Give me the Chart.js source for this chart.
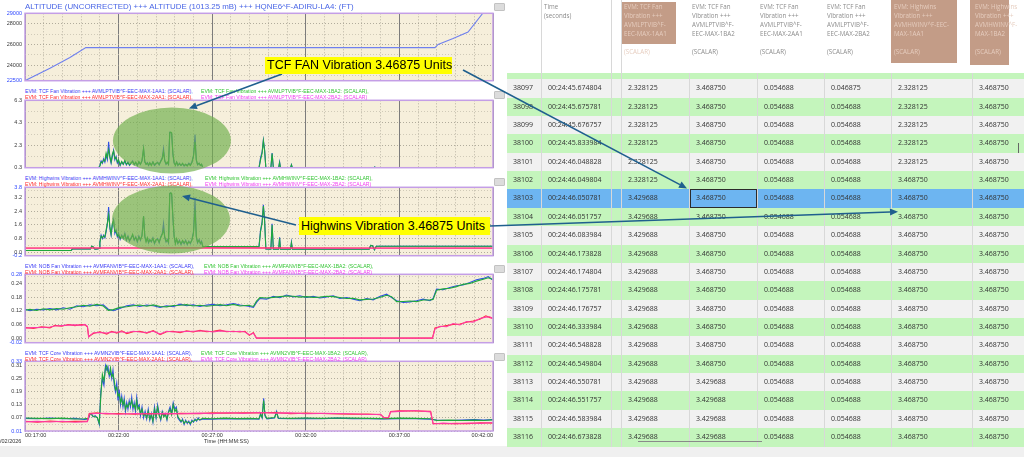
<!DOCTYPE html>
<html>
<head>
<meta charset="utf-8">
<script src="https://cdn.jsdelivr.net/npm/chart.js@4.4.1/dist/chart.umd.min.js"></script>
<style>
  body { margin:0; width:1024px; height:457px; overflow:hidden; background:#fff; position:relative; font-family:'Liberation Sans', Arial, sans-serif; }
  canvas.plot { position:absolute; left:0; }
  .title { position:absolute; left:25px; top:2px; font-size:7.9px; color:#4a66e6; white-space:nowrap; z-index:3; }
  .leg { position:absolute; font-size:5.1px; line-height:6px; white-space:nowrap; z-index:3; }
  .btn { position:absolute; left:494px; width:9px; height:6px; background:#dcdcdc; border:1px solid #c2c2c2; border-radius:1px; z-index:3; }
  .small { position:absolute; font-size:5.5px; color:#333; white-space:nowrap; }
  #grid { position:absolute; left:507px; top:0; width:517px; height:457px; overflow:hidden; font-family:'Open Sans','Noto Sans',sans-serif; }
  .hd { position:absolute; font-size:6.2px; line-height:9px; color:#8c8c8c; white-space:nowrap; }
  .row { position:absolute; left:0; width:517px; }
  .cell { position:absolute; font-size:7px; color:#333; white-space:nowrap; }
  .vl { position:absolute; width:1px; background:#d8d8d8; }
  .callout { position:absolute; background:#ffff00; color:#000; font-size:12.5px; white-space:nowrap; padding-left:2px; z-index:6; }
  #overlay { position:absolute; left:0; top:0; z-index:5; pointer-events:none; }
</style>
</head>
<body>
<div class="title">ALTITUDE (UNCORRECTED) +++ ALTITUDE (1013.25 mB) +++ HQNE6^F-ADIRU-LA4: (FT)</div>
<canvas class="plot" id="altChart" width="500" height="80" style="top:7px"></canvas>
<canvas class="plot" id="fanChart" width="500" height="80" style="top:94px"></canvas>
<canvas class="plot" id="hwChart" width="500" height="81" style="top:181px"></canvas>
<canvas class="plot" id="nobChart" width="500" height="81" style="top:268px"></canvas>
<canvas class="plot" id="coreChart" width="500" height="86" style="top:355px"></canvas>
<div class="small" style="left:204px; top:438px;">Time (HH:MM:SS)</div>
<div class="small" style="left:0; top:438px;">/02/2026</div>
<div style="position:absolute; left:0; top:446px; width:1024px; height:11px; background:#f0f0f0;"></div>
<div class="btn" style="top:3px"></div>
<div class="btn" style="top:91px"></div>
<div class="btn" style="top:178px"></div>
<div class="btn" style="top:265px"></div>
<div class="btn" style="top:353px"></div>
<div id="grid"></div>
<canvas id="overlay" width="1024" height="457"></canvas>
<div class="callout" id="fanNote" style="left:265px; top:57px; width:185px; height:17px; line-height:17px;">TCF FAN Vibration 3.46875 Units</div>
<div class="callout" id="hwNote" style="left:299px; top:217px; width:189px; height:18px; line-height:18px;">Highwins Vibration 3.46875 Units</div>

<script>
// ---- time axis: seconds after 00:17:00 ----
const timeLabels = ['00:17:00', '00:22:00', '00:27:00', '00:32:00', '00:37:00', '00:42:00'];

// ---- altitude (ft) ----
const altT  = [0, 80, 144, 195, 1314, 1324, 1372, 1420, 1468, 1500];
const altFt = [22500, 23700, 24730, 25690, 25690, 26000, 26570, 27190, 29030, 30100];
const altGrid   = [22500, 23000, 24000, 25000, 26000, 27000, 28000, 29000];
const altLabels = [22500, 24000, 26000, 28000, 29000];

// ---- TCF fan vibration ----
const fanNames = [
  'EVM: TCF Fan Vibration +++ AVMLPTVIB^F-EEC-MAX-1AA1: (SCALAR)',
  'EVM: TCF Fan Vibration +++ AVMLPTVIB^F-EEC-MAX-1BA2: (SCALAR)',
  'EVM: TCF Fan Vibration +++ AVMLPTVIB^F-EEC-MAX-2AA1: (SCALAR)',
  'EVM: TCF Fan Vibration +++ AVMLPTVIB^F-EEC-MAX-2BA2: (SCALAR)'
];
const fanT = [0, 120, 236,
  240, 244, 248, 252, 256, 260, 264, 268, 272, 276, 280, 284, 288, 292, 296, 300,
  305, 310, 315, 320, 325, 330, 335, 340, 345, 350, 355, 360, 365, 370, 375,
  380, 384, 388, 392, 396, 400, 405, 410, 415, 420, 425, 430, 435, 440,
  444, 448, 452, 456, 460, 464, 467, 470, 474, 478, 482, 486, 490,
  495, 500, 505, 510, 515, 520, 525, 530, 535, 540, 545, 549, 553, 558, 562, 566, 570,
  750, 755, 760, 764, 768, 772, 788, 792, 796, 813, 816, 819, 851, 854, 857, 1118, 1121, 1124, 1500];
const fanBlue = [0.28, 0.28, 0.28,
  0.5, 0.9, 0.7, 1.1, 0.8, 1.4, 1.0, 2.6, 1.2, 0.7, 1.3, 1.85, 1.0, 1.3, 0.7, 0.9,
  0.5, 0.8, 0.6, 0.9, 0.55, 0.8, 0.5, 0.7, 0.9, 0.55, 0.75, 0.5, 0.8, 0.6, 0.9,
  2.0, 0.8, 0.6, 0.75, 0.5, 0.7, 0.55, 0.8, 0.5, 0.65, 0.8, 0.55, 0.9, 1.2,
  2.0, 0.9, 0.6, 0.75, 0.6, 3.45, 3.43, 3.35, 1.5, 0.7, 0.55, 0.8, 0.5,
  0.7, 0.5, 0.65, 0.45, 0.6, 0.5, 0.7, 0.55, 0.8, 1.4, 3.25, 1.0, 0.55, 0.7, 0.5, 0.6, 0.28,
  0.28, 1.2, 1.7, 2.75, 1.9, 0.28, 0.28, 1.6, 0.28, 0.28, 0.8, 0.28, 0.28, 0.57, 0.28, 0.28, 0.36, 0.28, 0.28];
const fanGreen = [0.28, 0.28, 0.28,
  0.45, 0.8, 0.75, 1.0, 0.9, 1.6, 1.2, 1.9, 1.3, 0.8, 1.5, 1.8, 1.1, 1.2, 0.8, 1.0,
  0.55, 0.85, 0.6, 0.95, 0.6, 0.75, 0.55, 0.75, 0.85, 0.6, 0.8, 0.5, 0.85, 0.6, 0.95,
  2.0, 0.85, 0.6, 0.7, 0.55, 0.75, 0.5, 0.8, 0.55, 0.7, 0.75, 0.6, 0.85, 1.1,
  1.7, 0.9, 0.65, 0.8, 0.6, 3.43, 3.47, 3.4, 1.6, 0.75, 0.5, 0.8, 0.55,
  0.65, 0.5, 0.7, 0.5, 0.6, 0.45, 0.65, 0.5, 0.75, 1.3, 2.6, 1.0, 0.6, 0.7, 0.5, 0.6, 0.28,
  0.28, 1.0, 1.6, 2.7, 1.8, 0.28, 0.28, 1.55, 0.28, 0.28, 0.75, 0.28, 0.28, 0.55, 0.28, 0.28, 0.36, 0.28, 0.28];
const fanLowT = [0, 1500];
const fanRed = [0.055, 0.055];
const fanMagenta = [0.047, 0.055];
const fanGrid   = [0.3, 1.3, 2.3, 3.3, 4.3, 5.3, 6.3];
const fanLabels = [0.3, 2.3, 4.3, 6.3];

// ---- Highwins vibration ----
const hwNames = [
  'EVM: Highwins Vibration +++ AVMHWINV^F-EEC-MAX-1AA1: (SCALAR)',
  'EVM: Highwins Vibration +++ AVMHWINV^F-EEC-MAX-1BA2: (SCALAR)',
  'EVM: Highwins Vibration +++ AVMHWINV^F-EEC-MAX-2AA1: (SCALAR)',
  'EVM: Highwins Vibration +++ AVMHWINV^F-EEC-MAX-2BA2: (SCALAR)'
];
const hwT = [0, 148, 152, 210, 214, 218, 224, 232, 238,
  240, 244, 248, 252, 256, 260, 264, 268, 272, 276,
  280, 284, 288, 292, 296, 300, 305, 310, 315, 320,
  325, 330, 335, 340, 345, 350, 355, 360, 365, 370,
  375, 380, 384, 388, 392, 396, 400, 405, 410, 415,
  420, 425, 430, 435, 440, 444, 448, 452, 456, 460,
  464, 467, 470, 474, 478, 482, 486, 490, 495, 500,
  505, 510, 515, 520, 525, 530, 535, 540, 545, 549,
  553, 558, 562, 566, 570, 750, 755, 760, 764, 768,
  772, 788, 792, 796, 813, 816, 819, 851, 854, 857,
  1103, 1108, 1114, 1120, 1126, 1500];
const hwBlue = [0.1, 0.1, 0.2, 0.2, 0.35, 0.32, 0.18, 0.2, 0.22,
  0.6, 1.0, 0.8, 1.0, 0.85, 1.2, 1.65, 2.65, 1.4, 1.0,
  1.6, 1.9, 1.1, 1.3, 0.9, 1.1, 0.75, 1.0, 0.8, 1.1,
  0.7, 0.95, 0.65, 0.85, 1.0, 0.7, 0.9, 0.6, 0.95, 0.7,
  1.0, 2.1, 0.9, 0.65, 0.8, 0.55, 0.75, 0.6, 0.85, 0.5,
  0.7, 0.8, 0.55, 0.9, 1.1, 1.7, 0.85, 0.6, 0.75, 0.55,
  3.45, 3.47, 3.4, 2.0, 0.9, 0.55, 0.75, 0.5, 0.7, 0.45,
  0.65, 0.5, 0.7, 0.45, 0.65, 0.5, 0.75, 1.2, 3.2, 0.9,
  0.55, 0.75, 0.5, 0.65, 0.33, 0.33, 1.3, 1.8, 2.77, 1.9,
  0.2, 0.18, 1.67, 0.18, 0.18, 0.87, 0.18, 0.18, 0.6, 0.18,
  0.18, 0.4, 0.38, 0.15, 0.35, 0.35];
const hwGreen = [0.1, 0.1, 0.2, 0.2, 0.35, 0.32, 0.18, 0.2, 0.22,
  0.55, 0.95, 0.85, 0.95, 0.9, 1.3, 1.7, 2.2, 1.5, 1.05,
  1.7, 1.85, 1.2, 1.25, 0.95, 1.05, 0.8, 0.95, 0.85, 1.05,
  0.75, 0.9, 0.7, 0.8, 1.05, 0.75, 0.85, 0.65, 0.9, 0.75,
  0.95, 2.1, 0.95, 0.6, 0.85, 0.6, 0.7, 0.65, 0.8, 0.55,
  0.75, 0.75, 0.6, 0.85, 1.05, 1.3, 0.9, 0.65, 0.7, 0.6,
  3.43, 3.47, 3.45, 2.1, 0.95, 0.5, 0.8, 0.55, 0.65, 0.5,
  0.7, 0.55, 0.65, 0.5, 0.6, 0.55, 0.7, 1.1, 2.5, 0.95,
  0.6, 0.7, 0.55, 0.6, 0.33, 0.33, 1.2, 1.7, 2.7, 1.8,
  0.2, 0.18, 1.6, 0.18, 0.18, 0.8, 0.18, 0.18, 0.55, 0.18,
  0.18, 0.4, 0.38, 0.15, 0.35, 0.35];
const hwLowT = [0, 240, 570, 1100, 1500];
const hwRed = [0.25, 0.25, 0.26, 0.25, 0.25];
const hwMagenta = [0.24, 0.25, 0.25, 0.24, 0.24];
const hwGrid   = [-0.2, 0, 0.4, 0.8, 1.2, 1.6, 2.0, 2.4, 2.8, 3.2, 3.6, 3.8];
const hwLabels = [-0.2, 0, 0.8, 1.6, 2.4, 3.2, 3.8];

// ---- NOB fan vibration ----
const nobNames = [
  'EVM: NOB Fan Vibration +++ AVMFANVIB^F-EEC-MAX-1AA1: (SCALAR)',
  'EVM: NOB Fan Vibration +++ AVMFANVIB^F-EEC-MAX-1BA2: (SCALAR)',
  'EVM: NOB Fan Vibration +++ AVMFANVIB^F-EEC-MAX-2AA1: (SCALAR)',
  'EVM: NOB Fan Vibration +++ AVMFANVIB^F-EEC-MAX-2BA2: (SCALAR)'
];
const nobT = [0, 16, 37, 59, 80, 101, 123, 144, 166, 187,
  208, 230, 251, 267, 283, 304, 326, 347, 368, 390,
  411, 433, 454, 475, 497, 518, 539, 561, 582, 603,
  625, 646, 668, 689, 716, 732, 742, 753, 774, 796,
  817, 838, 860, 881, 902, 924, 945, 967, 988, 1009,
  1031, 1052, 1073, 1095, 1116, 1137, 1159, 1175, 1191, 1212,
  1234, 1255, 1276, 1298, 1308, 1319, 1340, 1362, 1383, 1404,
  1426, 1447, 1469, 1485, 1498];
const nobBlue = [0.127, 0.12, 0.127, 0.124, 0.13, 0.124, 0.133, 0.127, 0.142, 0.138,
  0.146, 0.142, 0.146, 0.127, 0.12, 0.13, 0.142, 0.146, 0.139, 0.145,
  0.142, 0.135, 0.142, 0.138, 0.149, 0.142, 0.146, 0.139, 0.145, 0.148,
  0.142, 0.146, 0.152, 0.145, 0.14, 0.135, 0.157, 0.174, 0.171, 0.183,
  0.177, 0.189, 0.181, 0.186, 0.178, 0.183, 0.176, 0.181, 0.186, 0.174,
  0.178, 0.171, 0.164, 0.174, 0.168, 0.183, 0.193, 0.178, 0.164, 0.157,
  0.159, 0.164, 0.171, 0.164, 0.174, 0.215, 0.212, 0.222, 0.23, 0.233,
  0.244, 0.256, 0.262, 0.27, 0.256];
const nobGreen = [0.122, 0.126, 0.121, 0.129, 0.124, 0.13, 0.127, 0.133, 0.138, 0.144,
  0.14, 0.148, 0.141, 0.122, 0.125, 0.135, 0.138, 0.142, 0.145, 0.14,
  0.146, 0.139, 0.137, 0.143, 0.144, 0.147, 0.141, 0.144, 0.14, 0.143,
  0.147, 0.142, 0.148, 0.141, 0.144, 0.139, 0.162, 0.178, 0.176, 0.179,
  0.182, 0.185, 0.184, 0.18, 0.182, 0.179, 0.18, 0.184, 0.182, 0.178,
  0.174, 0.175, 0.168, 0.17, 0.172, 0.178, 0.188, 0.182, 0.16, 0.161,
  0.163, 0.16, 0.167, 0.168, 0.17, 0.21, 0.216, 0.219, 0.226, 0.236,
  0.24, 0.25, 0.258, 0.265, 0.258];
const nobLowT = [0, 27, 53, 80, 96, 117, 139, 160, 182, 192,
  200, 204, 219, 240, 262, 278, 294, 310, 326, 347,
  368, 390, 411, 433, 454, 475, 497, 518, 539, 561,
  582, 603, 625, 646, 668, 689, 705, 719, 732, 742,
  1306, 1314, 1330, 1351, 1372, 1394, 1415, 1436, 1458, 1477,
  1490, 1498];
const nobRed = [0.047, 0.043, 0.05, 0.045, 0.056, 0.052, 0.06, 0.055, 0.06, 0.058,
  0.05, 0.007, 0.02, 0.028, 0.018, 0.03, 0.022, 0.032, 0.02, 0.028,
  0.03, 0.022, 0.033, 0.015, 0.028, 0.03, 0.024, 0.032, 0.027, 0.034,
  0.028, 0.03, 0.035, 0.028, 0.03, 0.027, 0.03, 0.012, 0.025, 0.0,
  0.0, 0.045, 0.05, 0.055, 0.06, 0.062, 0.07, 0.075, 0.083, 0.098,
  0.09, 0.088];
const nobMagenta = [0.044, 0.046, 0.047, 0.049, 0.053, 0.055, 0.057, 0.058, 0.056, 0.06,
  0.052, 0.005, 0.024, 0.025, 0.022, 0.027, 0.026, 0.028, 0.024, 0.03,
  0.027, 0.025, 0.03, 0.018, 0.03, 0.027, 0.028, 0.029, 0.03, 0.031,
  0.031, 0.027, 0.032, 0.03, 0.028, 0.03, 0.027, 0.015, 0.022, 0.0,
  0.0, 0.04, 0.052, 0.05, 0.064, 0.058, 0.073, 0.07, 0.086, 0.092,
  0.094, 0.085];
const nobGrid   = [-0.02, 0, 0.03, 0.06, 0.09, 0.12, 0.15, 0.18, 0.21, 0.24, 0.27, 0.28];
const nobLabels = [-0.02, 0, 0.06, 0.12, 0.18, 0.24, 0.28];

// ---- TCF core vibration ----
const coreNames = [
  'EVM: TCF Core Vibration +++ AVMN2VIB^F-EEC-MAX-1AA1: (SCALAR)',
  'EVM: TCF Core Vibration +++ AVMN2VIB^F-EEC-MAX-1BA2: (SCALAR)',
  'EVM: TCF Core Vibration +++ AVMN2VIB^F-EEC-MAX-2AA1: (SCALAR)',
  'EVM: TCF Core Vibration +++ AVMN2VIB^F-EEC-MAX-2BA2: (SCALAR)'
];
const coreT = [0, 40, 80, 120, 160, 190, 203, 208, 213, 218,
  225, 232, 238, 243, 248, 253, 258, 262, 266, 270,
  274, 278, 282, 286, 290, 294, 298, 302, 306, 310,
  314, 318, 322, 326, 330, 334, 338, 342, 346, 350,
  354, 358, 362, 366, 370, 375, 380, 385, 390, 395,
  400, 405, 410, 415, 420, 425, 430, 435, 440, 445,
  450, 455, 460, 465, 470, 475, 480, 485, 490, 495,
  500, 505, 510, 515, 520, 525, 530, 535, 540, 545,
  550, 555, 560, 570, 600, 640, 680, 720, 750, 755,
  760, 765, 769, 775, 800, 806, 812, 850, 900, 950,
  1000, 1050, 1100, 1150, 1200, 1250, 1300, 1320, 1360, 1400,
  1440, 1470, 1500];
const coreBlue = [0.068, 0.066, 0.07, 0.066, 0.068, 0.063, 0.065, 0.085, 0.09, 0.075,
  0.08, 0.07, 0.04, 0.19, 0.25, 0.22, 0.31, 0.29, 0.305, 0.26,
  0.28, 0.25, 0.29, 0.22, 0.19, 0.23, 0.15, 0.2, 0.13, 0.17,
  0.12, 0.16, 0.1, 0.14, 0.11, 0.15, 0.12, 0.165, 0.11, 0.14,
  0.1, 0.165, 0.12, 0.13, 0.08, 0.12, 0.07, 0.1, 0.065, 0.11,
  0.06, 0.09, 0.05, 0.12, 0.07, 0.13, 0.09, 0.06, 0.1, 0.08,
  0.09, 0.06, 0.1, 0.12, 0.09, 0.14, 0.11, 0.12, 0.07, 0.06,
  0.05, 0.065, 0.04, 0.06, 0.045, 0.055, 0.04, 0.06, 0.05, 0.065,
  0.055, 0.07, 0.06, 0.065, 0.064, 0.067, 0.065, 0.066, 0.064, 0.09,
  0.07, 0.16, 0.08, 0.066, 0.07, 0.1, 0.068, 0.066, 0.068, 0.066,
  0.069, 0.067, 0.066, 0.065, 0.067, 0.066, 0.064, 0.06, 0.058, 0.06,
  0.062, 0.06, 0.063];
const coreGreen = [0.07, 0.068, 0.067, 0.069, 0.065, 0.066, 0.068, 0.09, 0.085, 0.078,
  0.075, 0.072, 0.045, 0.17, 0.27, 0.24, 0.3, 0.31, 0.28, 0.27,
  0.3, 0.26, 0.27, 0.24, 0.2, 0.21, 0.17, 0.18, 0.14, 0.16,
  0.13, 0.15, 0.11, 0.13, 0.12, 0.14, 0.13, 0.15, 0.12, 0.13,
  0.11, 0.15, 0.11, 0.12, 0.09, 0.11, 0.08, 0.09, 0.07, 0.1,
  0.065, 0.085, 0.055, 0.11, 0.075, 0.12, 0.08, 0.065, 0.095, 0.075,
  0.085, 0.065, 0.095, 0.11, 0.085, 0.13, 0.1, 0.11, 0.075, 0.065,
  0.055, 0.06, 0.045, 0.055, 0.05, 0.05, 0.045, 0.055, 0.055, 0.06,
  0.06, 0.065, 0.062, 0.068, 0.066, 0.069, 0.067, 0.068, 0.066, 0.085,
  0.072, 0.15, 0.085, 0.068, 0.072, 0.095, 0.07, 0.068, 0.07, 0.068,
  0.07, 0.069, 0.068, 0.067, 0.069, 0.068, 0.066, 0.058, 0.06, 0.058,
  0.06, 0.058, 0.061];
const coreLowT = [0, 40, 80, 120, 160, 200, 206, 230, 260, 300,
  350, 400, 450, 500, 560, 600, 650, 700, 750, 800,
  850, 900, 950, 1000, 1050, 1100, 1140, 1150, 1165, 1172,
  1200, 1250, 1300, 1308, 1340, 1380, 1420, 1460, 1500];
const coreRed = [0.055, 0.05, 0.056, 0.052, 0.054, 0.055, 0.09, 0.093, 0.088, 0.09,
  0.087, 0.09, 0.088, 0.091, 0.09, 0.093, 0.092, 0.094, 0.093, 0.095,
  0.09, 0.092, 0.09, 0.088, 0.087, 0.088, 0.085, 0.072, 0.07, 0.1,
  0.103, 0.102, 0.1, 0.045, 0.043, 0.045, 0.044, 0.048, 0.046];
const coreMagenta = [0.052, 0.054, 0.051, 0.055, 0.05, 0.053, 0.088, 0.09, 0.091, 0.087,
  0.09, 0.088, 0.091, 0.089, 0.092, 0.09, 0.094, 0.091, 0.095, 0.092,
  0.093, 0.089, 0.091, 0.09, 0.089, 0.086, 0.087, 0.07, 0.073, 0.098,
  0.1, 0.104, 0.098, 0.042, 0.046, 0.043, 0.047, 0.045, 0.049];
const coreGrid   = [0.01, 0.04, 0.07, 0.10, 0.13, 0.16, 0.19, 0.22, 0.25, 0.28, 0.31, 0.33];
const coreLabels = [0.01, 0.07, 0.13, 0.19, 0.25, 0.31, 0.33];

// ---- data table (around the 00:24:46 peak) ----
const rowIds = [38097, 38098, 38099, 38100, 38101, 38102, 38103, 38104, 38105, 38106,
  38107, 38108, 38109, 38110, 38111, 38112, 38113, 38114, 38115, 38116];
const rowTimes = ['00:24:45.674804', '00:24:45.675781', '00:24:45.676757', '00:24:45.833984',
  '00:24:46.048828', '00:24:46.049804', '00:24:46.050781', '00:24:46.051757', '00:24:46.083984',
  '00:24:46.173828', '00:24:46.174804', '00:24:46.175781', '00:24:46.176757', '00:24:46.333984',
  '00:24:46.548828', '00:24:46.549804', '00:24:46.550781', '00:24:46.551757', '00:24:46.583984',
  '00:24:46.673828'];
const tcf1AA1 = [2.328125, 2.328125, 2.328125, 2.328125, 2.328125, 2.328125, 3.429688, 3.429688, 3.429688, 3.429688,
  3.429688, 3.429688, 3.429688, 3.429688, 3.429688, 3.429688, 3.429688, 3.429688, 3.429688, 3.429688];
const tcf1BA2 = [3.46875, 3.46875, 3.46875, 3.46875, 3.46875, 3.46875, 3.46875, 3.46875, 3.46875, 3.46875,
  3.46875, 3.46875, 3.46875, 3.46875, 3.46875, 3.46875, 3.429688, 3.429688, 3.429688, 3.429688];
const tcf2AA1 = [0.054688, 0.054688, 0.054688, 0.054688, 0.054688, 0.054688, 0.054688, 0.054688, 0.054688, 0.054688,
  0.054688, 0.054688, 0.054688, 0.054688, 0.054688, 0.054688, 0.054688, 0.054688, 0.054688, 0.054688];
const tcf2BA2 = [0.046875, 0.054688, 0.054688, 0.054688, 0.054688, 0.054688, 0.054688, 0.054688, 0.054688, 0.054688,
  0.054688, 0.054688, 0.054688, 0.054688, 0.054688, 0.054688, 0.054688, 0.054688, 0.054688, 0.054688];
const hw1AA1 = [2.328125, 2.328125, 2.328125, 2.328125, 2.328125, 3.46875, 3.46875, 3.46875, 3.46875, 3.46875,
  3.46875, 3.46875, 3.46875, 3.46875, 3.46875, 3.46875, 3.46875, 3.46875, 3.46875, 3.46875];
const hw1BA2 = [3.46875, 3.46875, 3.46875, 3.46875, 3.46875, 3.46875, 3.46875, 3.46875, 3.46875, 3.46875,
  3.46875, 3.46875, 3.46875, 3.46875, 3.46875, 3.46875, 3.46875, 3.46875, 3.46875, 3.46875];
const headTexts = [
  null,
  ['Time', '(seconds)'],
  null,
  ['EVM: TCF Fan', 'Vibration +++', 'AVMLPTVIB^F-', 'EEC-MAX-1AA1'],
  ['EVM: TCF Fan', 'Vibration +++', 'AVMLPTVIB^F-', 'EEC-MAX-1BA2'],
  ['EVM: TCF Fan', 'Vibration +++', 'AVMLPTVIB^F-', 'EEC-MAX-2AA1'],
  ['EVM: TCF Fan', 'Vibration +++', 'AVMLPTVIB^F-', 'EEC-MAX-2BA2'],
  ['EVM: Highwins', 'Vibration +++', 'AVMHWINV^F-EEC-', 'MAX-1AA1'],
  ['EVM: Highwins', 'Vibration +++', 'AVMHWINV^F-', 'MAX-1BA2']
];

// ---- styling ----
Chart.defaults.font.family = "'Liberation Sans', Arial, sans-serif";
const LINE_COLORS = ['#2f4fe6', '#1fa83c', '#ff2d3a', '#ff3aa6'];
const LEG_COLORS  = ['#3c3cf5', '#33c433', '#ff2b2b', '#f23cf0'];
const PLOT_BG = '#f6efdb';
const FRAME = '#c49ee6';

const framePlugin = {
  id: 'frame',
  beforeDraw(chart) {
    const { ctx, chartArea: a } = chart;
    ctx.save();
    ctx.fillStyle = PLOT_BG;
    ctx.fillRect(a.left, a.top, a.width, a.height);
    ctx.restore();
  },
  afterDraw(chart) {
    const { ctx, chartArea: a } = chart;
    ctx.save();
    ctx.strokeStyle = FRAME;
    ctx.lineWidth = 1.5;
    ctx.strokeRect(a.left, a.top, a.width, a.height);
    ctx.restore();
  }
};

function pts(ts, vs) {
  return ts.map((t, i) => ({ x: t, y: vs[i] }));
}

function fourSeries(names, t, blue, green, lowT, red, magenta) {
  const sets = [[t, blue], [t, green], [lowT, red], [lowT, magenta]];
  return sets.map((s, k) => ({
    label: names[k],
    data: pts(s[0], s[1]),
    borderColor: LINE_COLORS[k],
    borderWidth: 1.1,
    order: 4 - k
  }));
}

function makeChart(id, datasets, y, showTime) {
  const near = (v, list) => list.some(l => Math.abs(l - v) < 1e-9);
  return new Chart(document.getElementById(id), {
    type: 'line',
    data: { datasets },
    options: {
      responsive: false,
      animation: false,
      events: [],
      layout: { padding: { top: 6, right: 7, bottom: showTime ? 0 : 6, left: 0 } },
      plugins: { legend: { display: false }, tooltip: { enabled: false } },
      elements: { point: { radius: 0 }, line: { tension: 0 } },
      scales: {
        x: {
          type: 'linear', min: 0, max: 1500,
          border: { display: false, dash: c => (c.tick && c.tick.value % 300 === 0) ? [] : [1, 2] },
          grid: {
            drawTicks: false,
            color: c => (c.tick && c.tick.value % 300 === 0) ? '#7c7c7c' : '#a9a596',
            lineWidth: c => (c.tick && c.tick.value % 300 === 0) ? 1 : 0.8
          },
          ticks: {
            display: showTime, stepSize: 60, autoSkip: false, maxRotation: 0, align: 'inner',
            padding: 1, color: '#333', font: { size: 5.5 },
            callback: v => v % 300 === 0 ? timeLabels[v / 300] : ''
          },
          afterFit: s => { s.height = showTime ? 10 : 0; }
        },
        y: {
          min: y.min, max: y.max,
          afterBuildTicks: s => { s.ticks = y.grid.map(v => ({ value: v })); },
          afterFit: s => { s.width = 25; },
          border: { display: false, dash: [1, 2] },
          grid: {
            drawTicks: false,
            color: c => (c.tick && near(c.tick.value, y.labels)) ? '#9f9a8c' : '#c6c0ae',
            lineWidth: 0.8
          },
          ticks: {
            autoSkip: false, padding: 3, font: { size: 5.5 },
            color: c => (y.blueEnds && (c.tick.value === y.min || c.tick.value === y.max)) ? '#3049ff' : '#3a3a3a',
            callback: v => near(v, y.labels) ? Number(v).toFixed(y.dec) : ''
          }
        }
      }
    },
    plugins: [framePlugin]
  });
}

function legend(names, top, secondX) {
  [[0, 1], [2, 3]].forEach((pair, r) => pair.forEach((k, j) => {
    const d = document.createElement('div');
    d.className = 'leg';
    d.style.top = (top + r * 6) + 'px';
    d.style.left = (j ? secondX : 25) + 'px';
    d.style.color = LEG_COLORS[k];
    d.textContent = names[k] + (k < 3 ? ',' : '');
    document.body.appendChild(d);
  }));
}

const altChart = makeChart('altChart', [{
  label: 'ALTITUDE (1013.25 mB)', data: pts(altT, altFt), borderColor: '#6f80ee', borderWidth: 1.1
}], { min: 22500, max: 29000, grid: altGrid, labels: altLabels, dec: 0, blueEnds: true }, false);

const fanChart = makeChart('fanChart', fourSeries(fanNames, fanT, fanBlue, fanGreen, fanLowT, fanRed, fanMagenta),
  { min: 0.3, max: 6.3, grid: fanGrid, labels: fanLabels, dec: 1, blueEnds: false }, false);
const hwChart = makeChart('hwChart', fourSeries(hwNames, hwT, hwBlue, hwGreen, hwLowT, hwRed, hwMagenta),
  { min: -0.2, max: 3.8, grid: hwGrid, labels: hwLabels, dec: 1, blueEnds: true }, false);
const nobChart = makeChart('nobChart', fourSeries(nobNames, nobT, nobBlue, nobGreen, nobLowT, nobRed, nobMagenta),
  { min: -0.02, max: 0.28, grid: nobGrid, labels: nobLabels, dec: 2, blueEnds: true }, false);
const coreChart = makeChart('coreChart', fourSeries(coreNames, coreT, coreBlue, coreGreen, coreLowT, coreRed, coreMagenta),
  { min: 0.01, max: 0.33, grid: coreGrid, labels: coreLabels, dec: 2, blueEnds: true }, true);

legend(fanNames, 88, 201);
legend(hwNames, 175, 205);
legend(nobNames, 263, 204);
legend(coreNames, 350, 201);

// ---- table ----
const grid = document.getElementById('grid');
const colLeft = [0, 34, 104, 114, 182, 250, 317, 384, 465];
const ROW_TOP = 79.2, ROW_H = 18.37, SELECTED = 6, BOXED_COL = 4;
const cellEls = [];

function add(parent, cls, css, text) {
  const d = document.createElement('div');
  if (cls) d.className = cls;
  Object.assign(d.style, css);
  if (text !== undefined) d.textContent = text;
  parent.appendChild(d);
  return d;
}

[[115, 169, 2, 44], [384, 450, 0, 63], [463, 502, 0, 65]].forEach(b =>
  add(grid, '', { position: 'absolute', left: b[0] + 'px', width: (b[1] - b[0]) + 'px', top: b[2] + 'px', height: (b[3] - b[2]) + 'px', background: '#c39c87' }));
[1, 2, 3].forEach(c => add(grid, 'vl', { left: colLeft[c] + 'px', top: '0px', height: '73px' }));
headTexts.forEach((lines, c) => {
  if (!lines) return;
  const hl = [3, 7, 8].includes(c);
  lines.forEach((s, k) => add(grid, 'hd', { left: (colLeft[c] + 3) + 'px', top: (2 + k * 9) + 'px', color: hl ? '#e6cdbf' : '#8c8c8c' }, s));
  if (c >= 3) add(grid, 'hd', { left: (colLeft[c] + 3) + 'px', top: '47px', color: hl ? '#e6cdbf' : '#8c8c8c' }, '(SCALAR)');
});
add(grid, '', { position: 'absolute', left: '0px', top: '73px', width: '517px', height: (ROW_TOP - 73) + 'px', background: '#c4f5bc' });

const bodyCols = [rowIds, rowTimes, null, tcf1AA1, tcf1BA2, tcf2AA1, tcf2BA2, hw1AA1, hw1BA2];
rowIds.forEach((id, i) => {
  const bg = i === SELECTED ? '#6db5f1' : (i % 2 ? '#c4f5bc' : '#f1f1f1');
  const row = add(grid, 'row', { top: (ROW_TOP + i * ROW_H) + 'px', height: ROW_H + 'px', background: bg });
  cellEls[i] = [];
  bodyCols.forEach((col, c) => {
    if (!col) return;
    const v = col[i];
    const txt = typeof v === 'number' && c >= 3 ? v.toFixed(6) : String(v);
    cellEls[i][c] = add(row, 'cell', { left: (colLeft[c] + (c ? 7 : 6)) + 'px', top: '0px', lineHeight: ROW_H + 'px' }, txt);
  });
});
[1, 2, 3, 4, 5, 6, 7, 8].forEach(c => add(grid, 'vl', { left: colLeft[c] + 'px', top: '73px', height: (ROW_TOP + rowIds.length * ROW_H - 73) + 'px' }));
const boxed = add(grid, '', {
  position: 'absolute', boxSizing: 'border-box', left: (colLeft[BOXED_COL] + 1) + 'px', width: (colLeft[BOXED_COL + 1] - colLeft[BOXED_COL] - 1) + 'px',
  top: (ROW_TOP + SELECTED * ROW_H) + 'px', height: ROW_H + 'px', border: '1.5px solid #2b2b2b'
});
add(grid, '', { position: 'absolute', left: '131px', top: '441px', width: '124px', height: '1px', background: '#8a8a8a' });
add(grid, '', { position: 'absolute', left: '511px', top: '143px', width: '1px', height: '10px', background: '#666' });

// ---- annotations: green highlights and arrows ----
const ov = document.getElementById('overlay').getContext('2d');
function at(chart, t, v) {
  const cv = chart.canvas;
  return { x: cv.offsetLeft + chart.scales.x.getPixelForValue(t), y: cv.offsetTop + chart.scales.y.getPixelForValue(v) };
}
function arrow(x1, y1, x2, y2) {
  const a = Math.atan2(y2 - y1, x2 - x1), L = 8, W = 3.5;
  const bx = x2 - L * Math.cos(a), by = y2 - L * Math.sin(a);
  ov.strokeStyle = ov.fillStyle = '#1f5f8e';
  ov.lineWidth = 1.6;
  ov.beginPath(); ov.moveTo(x1, y1); ov.lineTo(bx, by); ov.stroke();
  ov.beginPath(); ov.moveTo(x2, y2);
  ov.lineTo(bx + W * Math.sin(a), by - W * Math.cos(a));
  ov.lineTo(bx - W * Math.sin(a), by + W * Math.cos(a));
  ov.closePath(); ov.fill();
}
function rect(el) { return el.getBoundingClientRect(); }

const fanBlob = at(fanChart, 471, 2.72);
const hwBlob = at(hwChart, 468, 1.91);
ov.fillStyle = 'rgba(112,176,76,0.68)';
ov.beginPath(); ov.ellipse(fanBlob.x, fanBlob.y, 59, 33, 0, 0, Math.PI * 2); ov.fill();
ov.beginPath(); ov.ellipse(hwBlob.x, hwBlob.y, 59, 34, 0, 0, Math.PI * 2); ov.fill();

const n1 = rect(document.getElementById('fanNote'));
const n2 = rect(document.getElementById('hwNote'));
const hwPeak = at(hwChart, 468, 3.47);
const c1 = rect(boxed);
const c2 = rect(cellEls[SELECTED + 1][7]);

arrow(n1.left + 17, n1.bottom, fanBlob.x + 17, fanBlob.y - 32);
arrow(n1.right + 11, n1.top + 13, c1.left - 3, c1.top - 1);
arrow(n2.left - 3, n2.top + 8, hwPeak.x + 11, hwPeak.y + 3);
arrow(n2.right, n2.top + 9, c2.left, c2.top + 4);
</script>
</body>
</html>
